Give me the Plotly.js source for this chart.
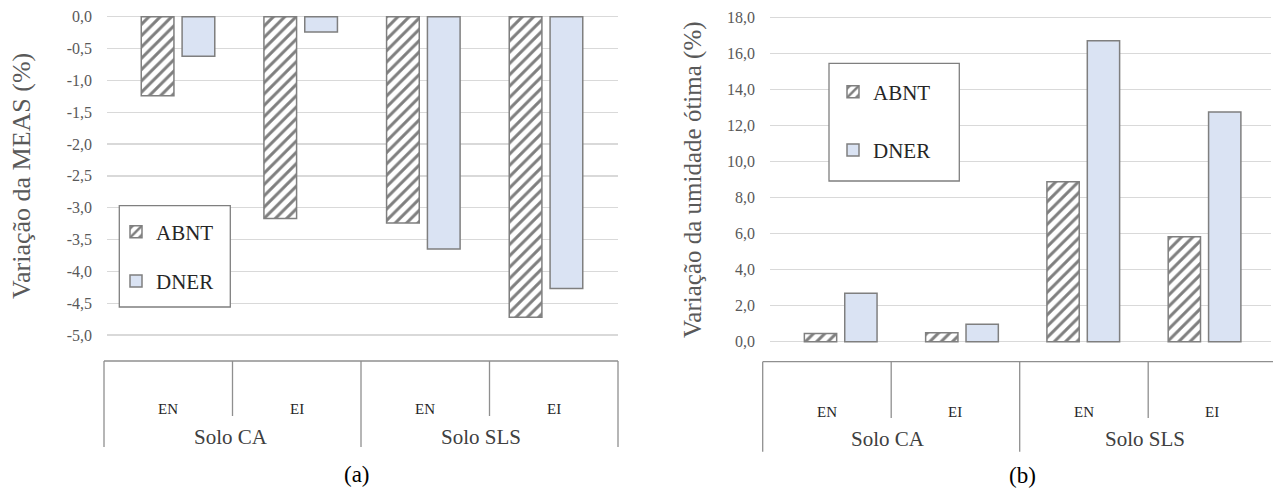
<!DOCTYPE html>
<html>
<head>
<meta charset="utf-8">
<script src="https://cdn.plot.ly/plotly-3.0.1.min.js"></script>
<style>html,body{margin:0;padding:0;background:#fff;}</style>
</head>
<body>
<div id="chart" style="width:1273px;height:490px;"></div>
<script>
// ---------- data ----------
const solos = ['Solo CA', 'Solo SLS'];
const categorias = ['Solo CA', 'Solo CA', 'Solo SLS', 'Solo SLS'];
const ensaios = ['EN', 'EI', 'EN', 'EI'];
const serieNomes = ['ABNT', 'DNER'];
const abntMEAS = [-1.24, -3.17, -3.24, -4.72];
const dnerMEAS = [-0.62, -0.24, -3.65, -4.27];
const abntUmidade = [0.46, 0.50, 8.89, 5.83];
const dnerUmidade = [2.69, 0.97, 16.72, 12.76];
const ticksA = [0, -0.5, -1.0, -1.5, -2.0, -2.5, -3.0, -3.5, -4.0, -4.5, -5.0];
const ticksAText = ['0,0', '-0,5', '-1,0', '-1,5', '-2,0', '-2,5', '-3,0', '-3,5', '-4,0', '-4,5', '-5,0'];
const ticksB = [0, 2, 4, 6, 8, 10, 12, 14, 16, 18];
const ticksBText = ['0,0', '2,0', '4,0', '6,0', '8,0', '10,0', '12,0', '14,0', '16,0', '18,0'];
const tituloA = 'Variação da MEAS (%)';
const tituloB = 'Variação da umidade ótima (%)';
const rotulosPaineis = ['(a)', '(b)'];

// ---------- layout helpers (pixel -> paper) ----------
const W = 1273, H = 490;
const fx = p => p / W;
const fy = p => 1 - p / H;
const FONT = 'Liberation Serif';
const xCats = categorias.map((c, i) => c + ' ' + ensaios[i]);

const hatch = {shape: '/', fgcolor: '#7f7f7f', bgcolor: '#ffffff', size: 8, solidity: 0.38};
const lineStyle = {color: '#7f7f7f', width: 1.5};
const dnerFill = '#dae3f3';

function barTrace(name, y, xa, ya, leg, grp, hatched) {
  return {
    type: 'bar', name: name, x: xCats, y: y, xaxis: xa, yaxis: ya,
    legend: leg, legendgroup: grp,
    marker: hatched ? {color: '#ffffff', pattern: hatch, line: lineStyle}
                    : {color: dnerFill, line: lineStyle},
    hoverinfo: 'skip'
  };
}

const data = [
  barTrace(serieNomes[0], abntMEAS, 'x', 'y', 'legend', 'a1', true),
  barTrace(serieNomes[1], dnerMEAS, 'x', 'y', 'legend', 'a2', false),
  barTrace(serieNomes[0], abntUmidade, 'x2', 'y2', 'legend2', 'b1', true),
  barTrace(serieNomes[1], dnerUmidade, 'x2', 'y2', 'legend2', 'b2', false)
];

// category box geometry (pixels)
const boxes = [
  {left: 104, right: 618, top: 361, inner: 416, outer: 447, labY: 409, soloY: 437, soloShift: [-2, -9], panelX: 357, panelY: 474},
  {left: 762.7, right: 1276.7, top: 361.7, inner: 418, outer: 451.7, labY: 411.7, soloY: 439, soloShift: [-3, -3], panelX: 1022, panelY: 475}
];

const shapes = [];
const annotations = [];
boxes.forEach((b, k) => {
  const step = (b.right - b.left) / 4;
  const lc = {color: '#8f8f8f', width: 1.3};
  shapes.push({type: 'line', xref: 'paper', yref: 'paper', x0: fx(b.left), x1: fx(b.right), y0: fy(b.top), y1: fy(b.top), line: lc});
  for (let i = 0; i <= 4; i++) {
    const bottom = (i % 2 === 0) ? b.outer : b.inner;
    shapes.push({type: 'line', xref: 'paper', yref: 'paper', x0: fx(b.left + i * step), x1: fx(b.left + i * step), y0: fy(b.top), y1: fy(bottom), line: lc});
  }
  ensaios.forEach((e, i) => {
    annotations.push({xref: 'paper', yref: 'paper', x: fx(b.left + (i + 0.5) * step), y: fy(b.labY), text: e, showarrow: false,
      xanchor: 'center', yanchor: 'middle', font: {family: FONT, size: 15, color: '#262626'}});
  });
  solos.forEach((s, j) => {
    annotations.push({xref: 'paper', yref: 'paper', x: fx(b.left + (2 * j + 1) * step), y: fy(b.soloY), xshift: b.soloShift[j], text: s, showarrow: false,
      xanchor: 'center', yanchor: 'middle', font: {family: FONT, size: 21, color: '#404040'}});
  });
  annotations.push({xref: 'paper', yref: 'paper', x: fx(b.panelX), y: fy(b.panelY), text: rotulosPaineis[k], showarrow: false,
    xanchor: 'center', yanchor: 'middle', font: {family: FONT, size: 23, color: '#000000'}});
});

// legend frames
shapes.push({type: 'rect', xref: 'paper', yref: 'paper', x0: fx(119.3), x1: fx(230.3), y0: fy(307), y1: fy(205.7),
  line: {color: '#7f7f7f', width: 1.3}, fillcolor: '#ffffff', layer: 'above'});
shapes.push({type: 'rect', xref: 'paper', yref: 'paper', x0: fx(829), x1: fx(959.3), y0: fy(181), y1: fy(63.3),
  line: {color: '#7f7f7f', width: 1.3}, fillcolor: '#ffffff', layer: 'above'});

const yCommon = {
  showgrid: true, gridcolor: '#d9d9d9', gridwidth: 1.3, zeroline: false, showline: false,
  ticks: '', ticklabelstandoff: 14, tickfont: {family: FONT, size: 16, color: '#595959'}, fixedrange: true
};
const xCommon = {type: 'category', showticklabels: false, showgrid: false, zeroline: false, showline: false, ticks: '', fixedrange: true};

const layout = {
  width: W, height: H,
  margin: {l: 0, r: 0, t: 0, b: 0, pad: 0},
  paper_bgcolor: '#ffffff', plot_bgcolor: '#ffffff',
  font: {family: FONT, color: '#595959'},
  barmode: 'group', bargap: 0.334, bargroupgap: 0.2,
  showlegend: true,
  xaxis: Object.assign({}, xCommon, {domain: [fx(107), fx(618)], range: [-0.579, 3.587], anchor: 'y'}),
  yaxis: Object.assign({}, yCommon, {domain: [fy(338.2), fy(13.5)], range: [-5.05, 0.05], anchor: 'x',
    tickvals: ticksA, ticktext: ticksAText,
    title: {text: tituloA, font: {family: FONT, size: 26, color: '#595959'}, standoff: 28}}),
  xaxis2: Object.assign({}, xCommon, {domain: [fx(770), fx(1271)], range: [-0.583, 3.548], anchor: 'y2'}),
  yaxis2: Object.assign({}, yCommon, {domain: [fy(344.4), fy(15)], range: [-0.15, 18.15], anchor: 'x2',
    tickvals: ticksB, ticktext: ticksBText,
    title: {text: tituloB, font: {family: FONT, size: 25, color: '#595959'}, standoff: 18}}),
  legend: {x: fx(116), y: fy(211.5), xanchor: 'left', yanchor: 'top', bgcolor: 'rgba(0,0,0,0)', borderwidth: 0,
    font: {family: FONT, size: 21, color: '#262626'}, traceorder: 'grouped', tracegroupgap: 19, itemclick: false, itemdoubleclick: false},
  legend2: {x: fx(833), y: fy(71.5), xanchor: 'left', yanchor: 'top', bgcolor: 'rgba(0,0,0,0)', borderwidth: 0,
    font: {family: FONT, size: 21, color: '#262626'}, traceorder: 'grouped', tracegroupgap: 28, itemclick: false, itemdoubleclick: false},
  shapes: shapes,
  annotations: annotations
};

Plotly.newPlot('chart', data, layout, {displayModeBar: false, staticPlot: true});
</script>
</body>
</html>
